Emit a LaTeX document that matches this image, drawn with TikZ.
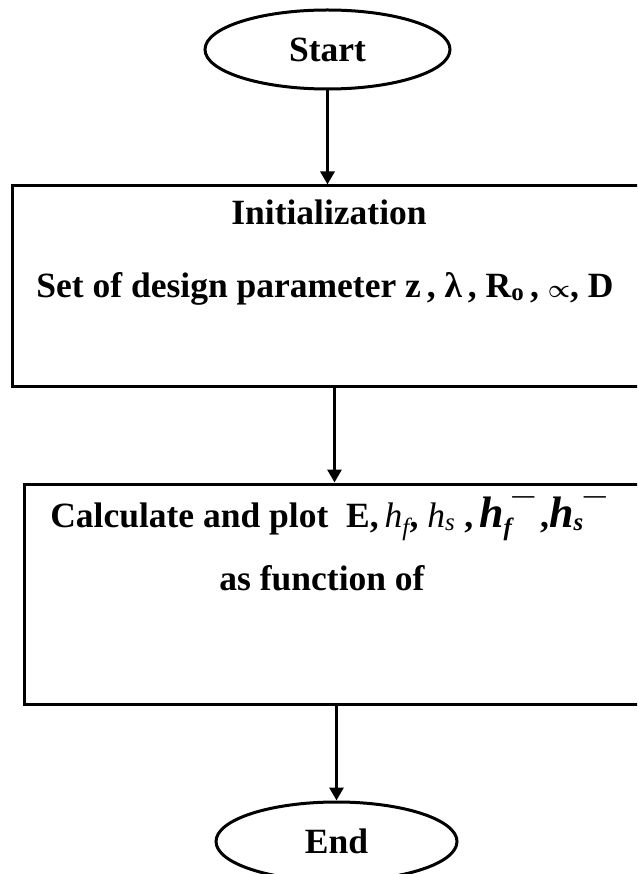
\documentclass[tikz,border=0pt]{standalone}
\usepackage{fontspec}
\setmainfont{Liberation Serif}
\usepackage{amsmath}
\usetikzlibrary{arrows.meta}
\usetikzlibrary{positioning}
\usetikzlibrary{shapes.geometric}
\tikzset{
	term/.style={ellipse, draw=black, line width=3pt, inner sep=0pt},
	proc/.style={rectangle, draw=black, line width=3pt, inner sep=0pt},
	txt/.style={inner sep=0pt, anchor=base, font=\fontsize{35.5}{42}\selectfont\bfseries},
	flow/.style={->, line width=3pt}
}
\newcommand{\hsub}[1]{{\mdseries\itshape h}\textsubscript{\mdseries\itshape #1}}
\newcommand{\hneg}[1]{{\fontsize{44}{46}\selectfont\bfseries\itshape h}\textsubscript{\bfseries\itshape #1}\raisebox{25pt}{\fontsize{22}{22}\selectfont\textemdash}}

\begin{document}
\begin{tikzpicture}[x=1pt, y=-1pt, >={Triangle[length=13pt,width=14pt]}, node distance=95pt]
		\useasboundingbox (0,0) rectangle (637,874);
		\clip (0,0) rectangle (637,874);
		\node[term, txt, anchor=center, minimum width=245pt, minimum height=79pt] (start) at (327.5,49.5) {Start};
		\node[proc, minimum width=630pt, minimum height=200pt, below=94pt of start] (init) {};
		\node[proc, minimum width=620pt, minimum height=220pt, below=of init, xshift=7pt] (calc) {};
		\node[term, txt, minimum width=241pt, minimum height=79pt, below=of calc, xshift=2pt] (end) {End};
		% texts in the boxes
		\node[txt] (initA) at (329,225) {Initialization};
		\node[txt] (initB) at (325,297)
		{Set of design parameter z\,, λ\,, R\textsubscript{o}\,, {\boldmath$\propto$}, D};
		\node[txt] (calcA) at (328,527)
		{Calculate and plot\ \ E,\,\hsub{f},\ \hsub{s}\ ,\,\hneg{f}\,,\hneg{s}};
		\node[txt] (calcB) at (322,590) {as function of};
		\draw[flow] (start) -- (init);
		\draw[flow] (init.south -| calc.north) -- (calc.north);
		\draw[flow] (calc.south -| end.north) -- (end.north);
	\end{tikzpicture}
\end{document}
